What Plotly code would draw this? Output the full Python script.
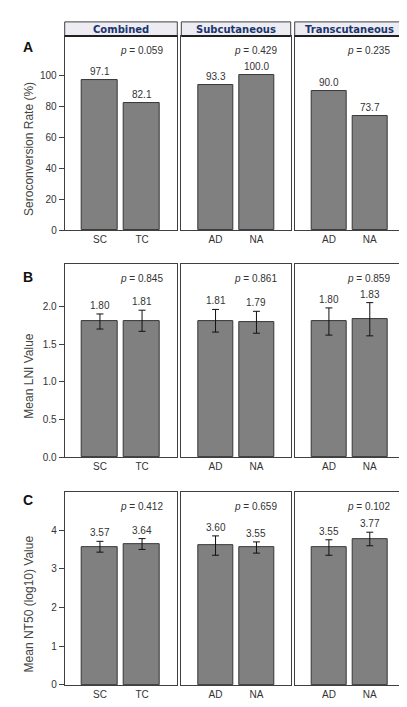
import plotly.graph_objects as go

# ---------------- data ----------------
groups = ["Combined", "Subcutaneous", "Transcutaneous"]
categories = [["SC", "TC"], ["AD", "NA"], ["AD", "NA"]]

sero_rate = [[97.1, 82.1], [93.3, 100.0], [90.0, 73.7]]
sero_p = ["0.059", "0.429", "0.235"]

lni_mean = [[1.80, 1.81], [1.81, 1.79], [1.80, 1.83]]
lni_err = [[0.10, 0.14], [0.15, 0.145], [0.18, 0.22]]
lni_p = ["0.845", "0.861", "0.859"]

nt50_mean = [[3.57, 3.64], [3.60, 3.55], [3.55, 3.77]]
nt50_err = [[0.14, 0.14], [0.25, 0.145], [0.20, 0.175]]
nt50_p = ["0.412", "0.659", "0.102"]

row_letters = ["A", "B", "C"]
row_titles = ["Seroconversion Rate (%)", "Mean LNI Value", "Mean NT50 (log10) Value"]
row_ticks = [[0, 20, 40, 60, 80, 100], [0.0, 0.5, 1.0, 1.5, 2.0], [0, 1, 2, 3, 4]]
row_ticktext = [["0", "20", "40", "60", "80", "100"],
                ["0.0", "0.5", "1.0", "1.5", "2.0"],
                ["0", "1", "2", "3", "4"]]
row_ranges = [[0, 125.2], [0, 2.56], [0, 4.98]]

# ---------------- layout geometry (pixels) ----------------
W, H = 407, 707
col_px = [(56.7, 169.3), (173.3, 282.7), (286.7, 396.0)]
row_px = [(28.3, 224.0), (258.3, 453.3), (488.3, 682.7)]
header_px = (14.0, 28.3)

def fx(x):
    return x / W

def fy(y):
    return 1 - y / H

FONT = "Liberation Sans, Arial, sans-serif"
TXT = "#333333"
FRAME = "#404040"

rows_vals = [sero_rate, lni_mean, nt50_mean]
rows_err = [None, lni_err, nt50_err]
rows_p = [sero_p, lni_p, nt50_p]
rows_fmt = ["{:.1f}", "{:.2f}", "{:.2f}"]

fig = go.Figure()
annotations = []
shapes = []
layout_axes = {}

for r in range(3):
    for c in range(3):
        k = r * 3 + c + 1
        xa = "x" if k == 1 else f"x{k}"
        ya = "y" if k == 1 else f"y{k}"
        vals = rows_vals[r][c]
        errs = rows_err[r][c] if rows_err[r] is not None else None
        xs = [0, 1]
        bar = go.Bar(
            x=xs, y=vals, width=0.855,
            marker=dict(color="#808080", line=dict(color="#363636", width=1)),
            xaxis=xa, yaxis=ya, showlegend=False, hoverinfo="skip",
        )
        if errs is not None:
            bar.error_y = dict(type="data", array=errs, visible=True,
                               color="#111111", thickness=1, width=3.5)
        fig.add_trace(bar)

        # value labels
        for i in range(2):
            top = vals[i] + (errs[i] if errs is not None else 0)
            annotations.append(dict(
                x=xs[i], y=top, xref=xa, yref=ya,
                text=rows_fmt[r].format(vals[i]), showarrow=False,
                yanchor="middle", yshift=8.5,
                font=dict(family=FONT, size=10, color=TXT),
            ))

        x0, x1 = col_px[c]
        y0, y1 = row_px[r]
        xkey = "xaxis" if k == 1 else f"xaxis{k}"
        ykey = "yaxis" if k == 1 else f"yaxis{k}"
        layout_axes[xkey] = dict(
            domain=[fx(x0), fx(x1)], anchor=ya, range=[-0.837, 1.837],
            tickmode="array", tickvals=xs, ticktext=categories[c],
            ticks="", showline=True, mirror=True, linecolor=FRAME, linewidth=1,
            showgrid=False, zeroline=False, fixedrange=True,
            tickfont=dict(family=FONT, size=10, color=TXT),
        )
        ycfg = dict(
            domain=[fy(y1), fy(y0)], anchor=xa, range=row_ranges[r],
            showline=True, mirror=True, linecolor=FRAME, linewidth=1,
            showgrid=False, zeroline=False, fixedrange=True,
        )
        if c == 0:
            ycfg.update(tickmode="array", tickvals=row_ticks[r],
                        ticktext=row_ticktext[r], ticks="outside", ticklen=5,
                        tickcolor=FRAME, tickwidth=1,
                        tickfont=dict(family=FONT, size=10, color=TXT))
        else:
            ycfg.update(showticklabels=False, ticks="")
        layout_axes[ykey] = ycfg

        # p-value
        annotations.append(dict(
            x=fx(x1 - 12), y=fy(y0 + 14.8), xref="paper", yref="paper",
            text=f"<i>p</i> = {rows_p[r][c]}", showarrow=False,
            xanchor="right", yanchor="middle",
            font=dict(family=FONT, size=10, color=TXT),
        ))

    # row letter and y title
    annotations.append(dict(
        x=fx(20), y=fy(row_px[r][0] + [10.8, 12.7, 8.4][r]), xref="paper", yref="paper",
        text=f"<b>{row_letters[r]}</b>", showarrow=False,
        xanchor="center", yanchor="middle",
        font=dict(family=FONT, size=14, color="#111111"),
    ))
    annotations.append(dict(
        x=fx(21), y=fy((row_px[r][0] + row_px[r][1]) / 2 + 16), xref="paper", yref="paper",
        text=row_titles[r], showarrow=False, textangle=-90,
        xanchor="center", yanchor="middle",
        font=dict(family=FONT, size=12, color="#444444"),
    ))

# group headers
for c in range(3):
    x0, x1 = col_px[c]
    shapes.append(dict(type="rect", xref="paper", yref="paper",
                       x0=fx(x0), x1=fx(x1), y0=fy(header_px[1]), y1=fy(header_px[0]),
                       fillcolor="#ECECF2", line=dict(color=FRAME, width=1), layer="above"))
    shapes.append(dict(type="line", xref="paper", yref="paper",
                       x0=fx(x0), x1=fx(x1), y0=fy(header_px[1]), y1=fy(header_px[1]),
                       line=dict(color="#202020", width=2), layer="above"))
    annotations.append(dict(
        x=fx((x0 + x1) / 2), y=fy((header_px[0] + header_px[1]) / 2 + 0.5),
        xref="paper", yref="paper", text=f"<b>{groups[c]}</b>", showarrow=False,
        xanchor="center", yanchor="middle",
        font=dict(family="DejaVu Sans, Verdana, sans-serif", size=10, color="#1B3570"),
    ))

fig.update_layout(
    width=W, height=H, margin=dict(l=0, r=0, t=0, b=0),
    paper_bgcolor="white", plot_bgcolor="white",
    annotations=annotations, shapes=shapes, bargap=0,
    font=dict(family=FONT, size=10, color=TXT),
    **layout_axes,
)

fig.write_html("out.html", config={"displayModeBar": False})
